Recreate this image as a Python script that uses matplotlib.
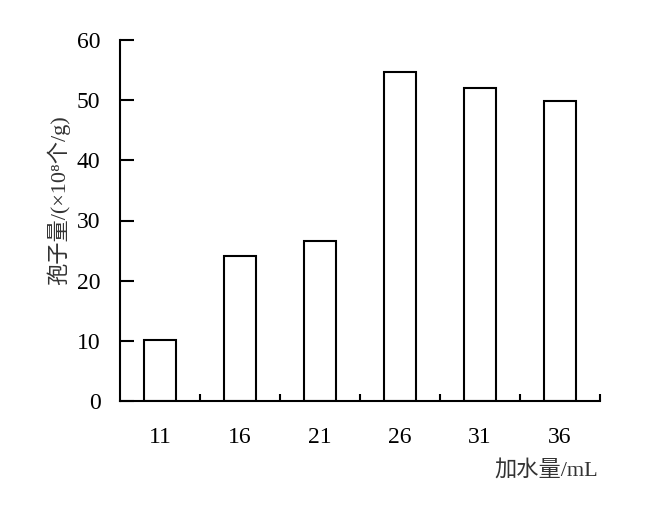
import matplotlib

matplotlib.use("Agg")
import matplotlib.pyplot as plt
from matplotlib.ticker import FixedLocator

water_ml = ["11", "16", "21", "26", "31", "36"]
spores = [10.2, 24.1, 26.6, 54.7, 52.0, 49.9]
y_ticks = [0, 10, 20, 30, 40, 50, 60]

plt.rcParams["font.family"] = ["Liberation Serif", "Noto Sans CJK SC", "DejaVu Serif"]

fig = plt.figure(figsize=(6.67, 5.12), dpi=100)
ax = fig.add_axes([120 / 667, 1 - 401 / 512, 480 / 667, 361 / 512])

x = list(range(len(water_ml)))
ax.bar(x, spores, width=0.4, color="white", edgecolor="black", linewidth=1.5)

ax.set_xlim(-0.5, len(water_ml) - 0.5)
ax.set_ylim(0, 60)
ax.set_xticks(x)
ax.set_xticklabels(water_ml, fontsize=17)
ax.xaxis.set_minor_locator(FixedLocator([i + 0.5 for i in x]))
ax.tick_params(axis="x", which="major", length=0, pad=19)
ax.tick_params(axis="x", which="minor", direction="in", length=5, width=1.5)
ax.set_yticks(y_ticks)
ax.set_yticklabels([str(v) for v in y_ticks], fontsize=17)
ax.tick_params(axis="y", direction="in", length=10, width=1.5, pad=14)

for side in ["top", "right"]:
    ax.spines[side].set_visible(False)
for side in ["left", "bottom"]:
    ax.spines[side].set_linewidth(1.5)

fig.text(598 / 667, 1 - 470 / 512, "加水量/mL", ha="right", va="center",
         fontsize=16, color="#333333")
fig.text(58 / 667, 1 - 200 / 512, "孢子量/(×10⁸个/g)", ha="center", va="center",
         rotation=90, fontsize=16, color="#333333")

fig.savefig("out.png", dpi=100)
